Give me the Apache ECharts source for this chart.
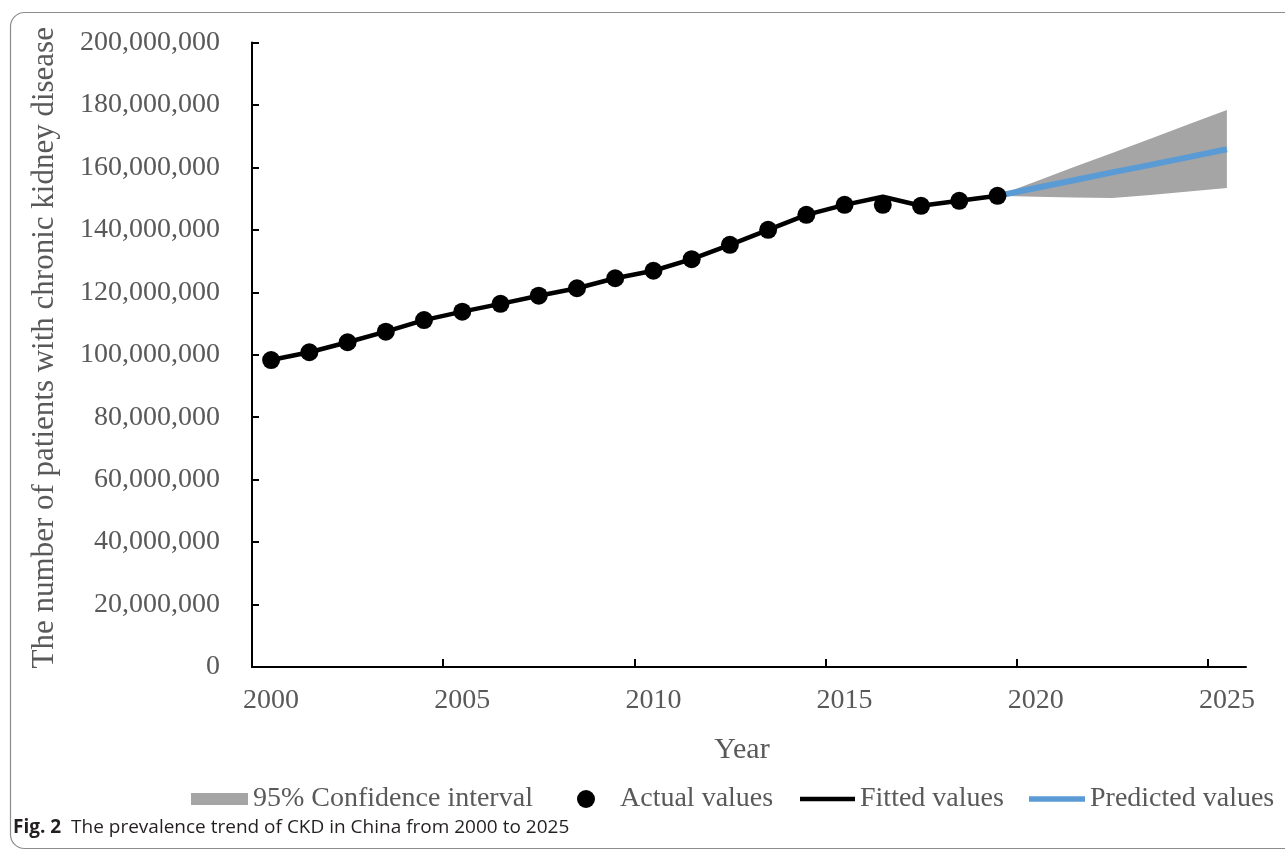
<!DOCTYPE html>
<html>
<head>
<meta charset="utf-8">
<script src="https://cdn.jsdelivr.net/npm/echarts@6/dist/echarts.min.js"></script>
<style>
  html, body { margin: 0; padding: 0; background: #ffffff; }
  #chart { width: 1285px; height: 852px; }
</style>
</head>
<body>
<div id="chart"></div>
<script>
// Year categories on the x axis (2000 to 2025)
const years = ['2000','2001','2002','2003','2004','2005','2006','2007','2008','2009',
               '2010','2011','2012','2013','2014','2015','2016','2017','2018','2019',
               '2020','2021','2022','2023','2024','2025'];

// Observed prevalence, 2000-2019
const actualValues = [98300000, 100800000, 104000000, 107400000, 111100000, 113800000,
                      116300000, 118900000, 121300000, 124500000, 126900000, 130600000,
                      135200000, 140000000, 144800000, 148000000, 148000000, 147700000,
                      149300000, 150900000];

// Model fit, 2000-2019
const fittedValues = [98300000, 100800000, 104000000, 107400000, 111100000, 113800000,
                      116300000, 118900000, 121300000, 124500000, 126900000, 130600000,
                      135200000, 140000000, 144800000, 148000000, 150600000, 147700000,
                      149300000, 150900000];

// Forecast, 2019-2025
const predictedValues = [150900000, 153400000, 155900000, 158400000, 160800000, 163300000, 165800000];
const ciLower = [150900000, 150600000, 150400000, 150200000, 151200000, 152300000, 153400000];
const ciUpper = [150900000, 155500000, 160100000, 164600000, 169200000, 173800000, 178400000];

const forecastStart = years.indexOf('2019');

// y axis tick settings
const yMin = 0, yMax = 200000000, yStep = 20000000;

// x tick marks sit on the category boundaries every five years
const xTickBoundaries = [-0.5, 4.5, 9.5, 14.5, 19.5, 24.5];

const SERIF = '"Liberation Serif", "Times New Roman", serif';
const GREY_TEXT = '#595959';

function padBefore(arr, n) { return new Array(n).fill(null).concat(arr); }
function padAfter(arr, total) { return arr.concat(new Array(total - arr.length).fill(null)); }

const n = years.length;
const actualData = padAfter(actualValues, n);
const fittedData = padAfter(fittedValues, n);
const predictedData = padBefore(predictedValues, forecastStart);
const lowerData = padBefore(ciLower, forecastStart);
const bandData = padBefore(ciUpper.map((u, i) => u - ciLower[i]), forecastStart);

const chart = echarts.init(document.getElementById('chart'), null, { renderer: 'canvas' });

const legendText = { fontFamily: SERIF, fontSize: 28, color: GREY_TEXT };
const legendTop = 780;

chart.setOption({
  animation: false,
  backgroundColor: '#ffffff',
  grid: { left: 252, right: 39, top: 42.5, bottom: 185, containLabel: false },
  xAxis: [
    {
      type: 'category',
      data: years,
      boundaryGap: true,
      name: 'Year',
      nameLocation: 'middle',
      nameGap: 68,
      nameTextStyle: { fontFamily: SERIF, fontSize: 30, color: GREY_TEXT, padding: [0, 14, 0, 0] },
      axisLine: { show: true, onZero: false, lineStyle: { color: '#000000', width: 2 } },
      axisTick: { show: false },
      axisLabel: { interval: 4, margin: 20, fontFamily: SERIF, fontSize: 28, color: GREY_TEXT },
      splitLine: { show: false }
    },
    {
      // tick-only companion axis covering the same span as the categories
      type: 'value',
      position: 'bottom',
      min: -0.5,
      max: n - 0.5,
      axisLine: { show: false, onZero: false },
      axisLabel: { show: false },
      axisTick: {
        show: true, inside: true, length: 8,
        customValues: xTickBoundaries,
        lineStyle: { color: '#000000', width: 2 }
      },
      splitLine: { show: false }
    }
  ],
  yAxis: {
    type: 'value',
    min: yMin,
    max: yMax,
    interval: yStep,
    name: 'The number of patients with chronic kidney disease',
    nameLocation: 'middle',
    nameGap: 192,
    nameTextStyle: { fontFamily: SERIF, fontSize: 31, color: GREY_TEXT, padding: [0, 0, 0, 14] },
    axisLine: { show: true, onZero: false, lineStyle: { color: '#000000', width: 2 } },
    axisTick: { show: true, inside: true, length: 7, lineStyle: { color: '#000000', width: 2 } },
    axisLabel: {
      margin: 32,
      fontFamily: SERIF,
      fontSize: 28,
      color: GREY_TEXT,
      formatter: v => v.toLocaleString('en-US')
    },
    splitLine: { show: false }
  },
  legend: [
    {
      left: 186, top: legendTop, itemWidth: 57, itemHeight: 12,
      data: [{ name: '95% Confidence interval', icon: 'rect', itemStyle: { color: '#A5A5A5', borderWidth: 0 } }],
      textStyle: legendText, selectedMode: false
    },
    {
      left: 572, top: legendTop, itemWidth: 18, itemHeight: 18,
      data: [{ name: 'Actual values', icon: 'circle', itemStyle: { color: '#000000', borderWidth: 0, opacity: 1 } }],
      textStyle: Object.assign({ padding: [0, 0, 0, 20] }, legendText), selectedMode: false
    },
    {
      left: 795, top: legendTop, itemWidth: 55, itemHeight: 12,
      data: [{ name: 'Fitted values', icon: 'path://M0,0H55V4.5H0Z', itemStyle: { color: '#000000', borderWidth: 0 } }],
      textStyle: legendText, selectedMode: false
    },
    {
      left: 1024, top: legendTop, itemWidth: 56, itemHeight: 12,
      data: [{ name: 'Predicted values', icon: 'path://M0,0H56V5.5H0Z', itemStyle: { color: '#5B9BD5', borderWidth: 0 } }],
      textStyle: legendText, selectedMode: false
    }
  ],
  graphic: [
    {
      type: 'rect',
      silent: true,
      shape: { x: 10.5, y: 12.5, width: 1320, height: 836, r: 14 },
      style: { fill: null, stroke: '#8c8c8c', lineWidth: 1.2 }
    },
    {
      type: 'text',
      left: 13,
      top: 818,
      style: {
        text: '{b|Fig. 2}  The prevalence trend of CKD in China from 2000 to 2025',
        font: '19px "Open Sans", sans-serif',
        fill: '#231f20',
        rich: {
          b: { fontWeight: 'bold', fontSize: 19, fontFamily: '"Open Sans", sans-serif', fill: '#231f20' }
        }
      }
    }
  ],
  series: [
    {
      name: 'ciBase',
      type: 'line',
      stack: 'ci',
      data: lowerData,
      symbol: 'none',
      lineStyle: { width: 0, opacity: 0 },
      silent: true,
      z: 1
    },
    {
      name: '95% Confidence interval',
      type: 'line',
      stack: 'ci',
      data: bandData,
      symbol: 'none',
      color: '#A5A5A5',
      lineStyle: { width: 0, opacity: 0 },
      areaStyle: { color: '#A5A5A5', opacity: 1 },
      silent: true,
      z: 2
    },
    {
      name: 'Predicted values',
      type: 'line',
      data: predictedData,
      symbol: 'none',
      color: '#5B9BD5',
      lineStyle: { color: '#5B9BD5', width: 6 },
      z: 3
    },
    {
      name: 'Fitted values',
      type: 'line',
      data: fittedData,
      symbol: 'none',
      color: '#000000',
      lineStyle: { color: '#000000', width: 4.5 },
      z: 4
    },
    {
      name: 'Actual values',
      type: 'scatter',
      data: actualData,
      symbol: 'circle',
      symbolSize: 18,
      itemStyle: { color: '#000000', opacity: 1 },
      z: 5
    }
  ]
});
</script>
</body>
</html>
